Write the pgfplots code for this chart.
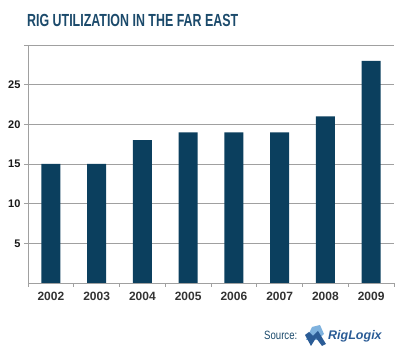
\documentclass[border=0pt]{standalone}
\usepackage{pgfplots}
\pgfplotsset{compat=1.18}
\usepackage{fontspec}
\setmainfont{Liberation Sans}
\definecolor{titleblue}{HTML}{1B4A6B}
\definecolor{barblue}{HTML}{0B3F5E}
\definecolor{gridgray}{HTML}{A0A0A0}
\definecolor{logoblue}{HTML}{2B5C96}
\definecolor{logolight}{HTML}{7FB2DE}
\begin{document}
\begin{tikzpicture}[x=1pt,y=1pt]
\path[use as bounding box] (0,0) rectangle (400,356);
\node[anchor=base west, inner sep=0, text=titleblue] at (27,329)
  {\scalebox{0.71}[1]{\fontsize{17.5}{19}\selectfont\bfseries RIG UTILIZATION IN THE FAR EAST}};
\begin{axis}[
  at={(28pt,73pt)}, anchor=south west,
  scale only axis, width=366pt, height=238pt,
  xmin=-0.5, xmax=7.5, ymin=0, ymax=30,
  axis lines*=left,
  axis line style={gridgray, line width=0.8pt},
  ymajorgrids, grid style={gridgray, line width=0.8pt},
  ytick={5,10,15,20,25,30},
  yticklabels={5,10,15,20,25,},
  xtick={0,...,7},
  xticklabels={2002,2003,2004,2005,2006,2007,2008,2009},
  minor xtick={-0.5,0.5,...,7.5},
  tick align=outside,
  major tick length=4pt, minor tick length=4pt,
  major x tick style={draw=none},
  tick style={gridgray, line width=0.8pt},
  ytick style={gridgray, line width=0.8pt},
  yticklabel style={font=\fontsize{11}{12}\selectfont\bfseries, text=black!90},
  xticklabel style={font=\fontsize{12}{14}\selectfont\bfseries, text=black!80, yshift=-2pt},
  /pgf/number format/assume math mode=true,
  clip=false,
]
\addplot[ybar, bar width=19pt, fill=barblue, draw=none]
  coordinates {(0,15) (1,15) (2,18) (3,19) (4,19) (5,19) (6,21) (7,28)};
\end{axis}
\node[anchor=base west, inner sep=0, text=titleblue] at (264,16)
  {\scalebox{0.8}[1]{\fontsize{12}{14}\selectfont Source:}};
% logo
\fill[logolight] (306,16) -- (312,29) -- (320,31) -- (324,22) -- (318,16) -- cycle;
\fill[logoblue] (305,21) -- (311,10) -- (316,18) -- (322,10) -- (326,12) -- (318,25) -- (313,20) -- (309,24) -- cycle;
\node[anchor=base west, inner sep=0, text=logoblue] at (328,16)
  {\fontsize{12.5}{14}\selectfont\bfseries\itshape RigLogix};
\end{tikzpicture}
\end{document}
